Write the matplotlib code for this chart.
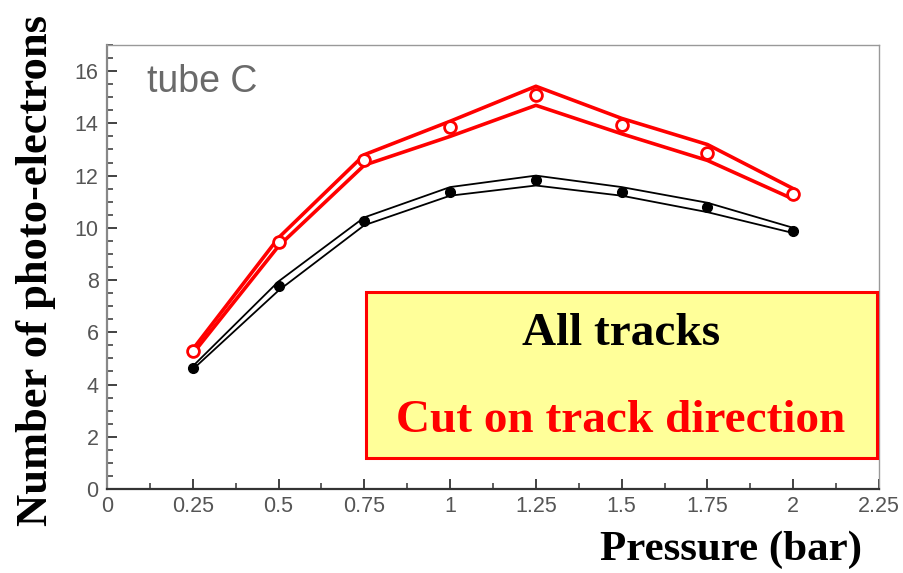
import matplotlib
matplotlib.use("Agg")
import matplotlib.pyplot as plt
from matplotlib.ticker import MultipleLocator, FixedLocator
from matplotlib.patches import Rectangle

pressure = [0.25, 0.5, 0.75, 1.0, 1.25, 1.5, 1.75, 2.0]
all_tracks = [4.63, 7.77, 10.25, 11.38, 11.85, 11.38, 10.8, 9.88]
all_upper = [4.7, 7.95, 10.4, 11.56, 12.0, 11.56, 10.96, 10.0]
all_lower = [4.58, 7.6, 10.1, 11.23, 11.62, 11.23, 10.6, 9.8]
cut_tracks = [5.27, 9.45, 12.58, 13.85, 15.08, 13.92, 12.85, 11.3]
cut_upper = [5.35, 9.62, 12.8, 14.08, 15.42, 14.19, 13.19, 11.5]
cut_lower = [5.18, 9.3, 12.4, 13.5, 14.69, 13.6, 12.58, 11.1]
xticks = [0, 0.25, 0.5, 0.75, 1, 1.25, 1.5, 1.75, 2, 2.25]
xticklabels = ["0", "0.25", "0.5", "0.75", "1", "1.25", "1.5", "1.75", "2", "2.25"]
yticks = [0, 2, 4, 6, 8, 10, 12, 14, 16]

W, H = 904, 573
fig = plt.figure(figsize=(W / 100, H / 100), dpi=100)
ax = fig.add_axes([107 / W, 1 - 489 / H, (879 - 107) / W, (489 - 45) / H])
ax.set_xlim(0, 2.25)
ax.set_ylim(0, 17)

# bands
ax.plot(pressure, cut_upper, color="#ff0000", lw=2.6, zorder=3)
ax.plot(pressure, cut_lower, color="#ff0000", lw=2.6, zorder=3)
ax.plot(pressure, all_upper, color="black", lw=1.3, zorder=3)
ax.plot(pressure, all_lower, color="black", lw=1.3, zorder=3)
# points
ax.plot(pressure, cut_tracks, ls="none", marker="o", ms=8.5, mfc="white",
        mec="#ff0000", mew=2.0, zorder=4)
ax.plot(pressure, all_tracks, ls="none", marker="o", ms=7, mfc="black",
        mec="black", zorder=4)

# axes styling (ROOT-like)
for side in ["top", "right"]:
    ax.spines[side].set_color("#999999")
    ax.spines[side].set_linewidth(1.0)
for side in ["left", "bottom"]:
    ax.spines[side].set_color("#888888")
    ax.spines[side].set_linewidth(1.6)
ax.spines["bottom"].set_color("#333333")

ax.xaxis.set_major_locator(FixedLocator(xticks))
ax.set_xticklabels(xticklabels)
ax.xaxis.set_minor_locator(MultipleLocator(0.125))
ax.yaxis.set_major_locator(FixedLocator(yticks))
ax.yaxis.set_minor_locator(MultipleLocator(0.5))
ax.tick_params(axis="both", which="major", direction="in", length=7, width=1.3,
               color="#333333", labelcolor="#555555", labelsize=15.5)
ax.tick_params(axis="both", which="minor", direction="in", length=4, width=1.1,
               color="#333333")
ax.tick_params(axis="x", pad=5)
ax.tick_params(axis="y", pad=6)
for lab in ax.get_xticklabels() + ax.get_yticklabels():
    lab.set_fontfamily("Liberation Sans")

ax.text(0.118, 15.6, "tube C", color="#6a6a6a", fontsize=27,
        fontfamily="Liberation Sans", va="center", ha="left")

# annotation box
box = Rectangle((366 / W, 1 - 458 / H), (877 - 366) / W, (458 - 292) / H,
                transform=fig.transFigure, facecolor="#ffff99",
                edgecolor="#ff0000", lw=2.2, zorder=5)
fig.patches.append(box)
fig.text(621 / W, 1 - 334 / H, "All tracks", color="black", fontsize=34,
         fontweight="bold", fontfamily="Liberation Serif", ha="center",
         va="center", zorder=6)
fig.text(621 / W, 1 - 421 / H, "Cut on track direction", color="#ff0000",
         fontsize=34, fontweight="bold", fontfamily="Liberation Serif",
         ha="center", va="center", zorder=6)

fig.text(36 / W, 1 - 270 / H, "Number of photo-electrons", rotation=90,
         fontsize=32, fontweight="bold", fontfamily="Liberation Serif",
         ha="center", va="center")
fig.text(731 / W, 1 - 550 / H, "Pressure (bar)", fontsize=31,
         fontweight="bold", fontfamily="Liberation Serif", ha="center",
         va="center")

fig.savefig("out.png", dpi=100)
